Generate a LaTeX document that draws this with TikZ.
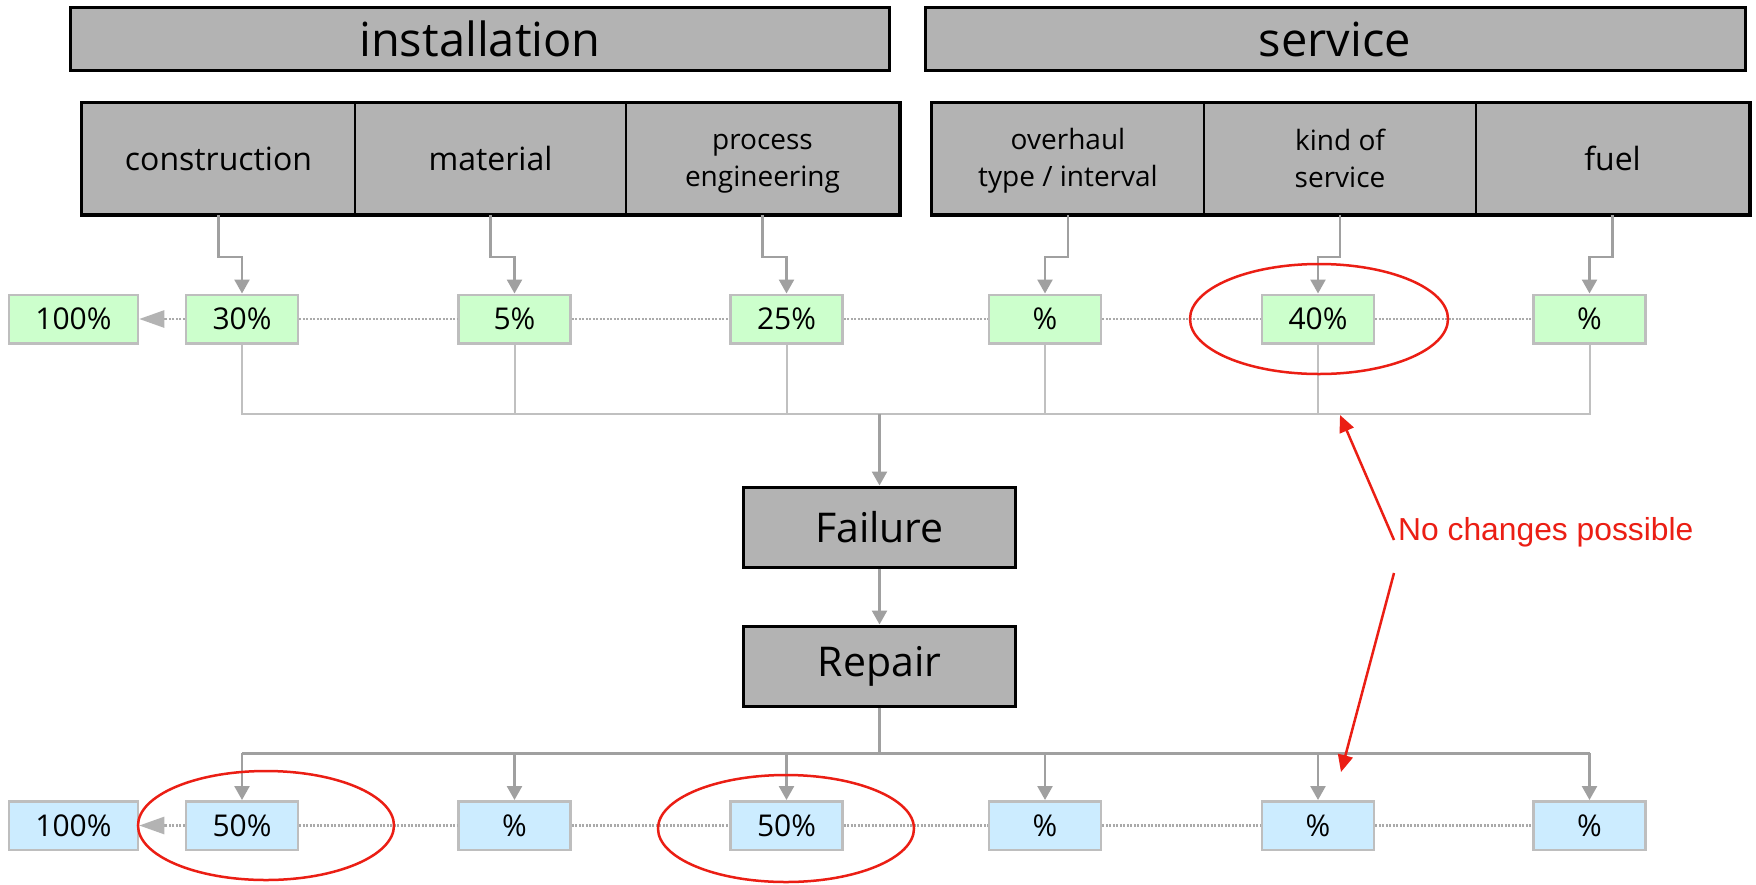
\documentclass[tikz,border=0pt]{standalone}
\usepackage{fontspec}
\setmainfont{Open Sans}
\newfontfamily\arialf{Liberation Sans}
\usetikzlibrary{arrows.meta}
\definecolor{boxgray}{RGB}{179,179,179}
\definecolor{lgreen}{RGB}{204,255,204}
\definecolor{lblue}{RGB}{204,236,255}
\definecolor{pborder}{RGB}{190,190,190}
\definecolor{arrgray}{RGB}{160,160,160}
\definecolor{busgray}{RGB}{192,192,192}
\definecolor{dotgray}{RGB}{170,170,170}
\definecolor{annred}{RGB}{235,30,20}
\begin{document}
\begin{tikzpicture}[x=1pt,y=-1pt,
  bigbox/.style={draw=black,line width=3pt,fill=boxgray,inner sep=0pt,minimum height=62.5pt,font=\fontsize{47}{56}\selectfont},
  cellbox/.style={draw=black,line width=2pt,fill=boxgray,inner sep=0pt,minimum width=272pt,minimum height=111pt,align=center},
  onel/.style={font=\fontsize{32}{37}\selectfont},
  twol/.style={font=\fontsize{28}{37}\selectfont},
  midbox/.style={draw=black,line width=3pt,fill=boxgray,inner sep=0pt,minimum width=272pt,minimum height=80pt,font=\fontsize{41}{48}\selectfont},
  pct/.style={draw=pborder,line width=2.5pt,inner sep=0pt,minimum width=112pt,minimum height=48.5pt,font=\fontsize{30}{36}\selectfont},
  gpct/.style={pct,fill=lgreen},
  bpct/.style={pct,fill=lblue},
  arr/.style={draw=arrgray,line width=2.5pt,-{Triangle[length=14pt,width=15pt]}},
  ubus/.style={draw=busgray,line width=2pt},
  lbus/.style={draw=arrgray,line width=3pt},
  dotl/.style={draw=dotgray,line width=2.5pt,dash pattern=on 2pt off 1.5pt},
  dotarr/.style={dotl,-{Triangle[length=25pt,width=17pt,color=boxgray]}},
  redl/.style={draw=annred,line width=2.5pt},
  redarr/.style={draw=annred,line width=2.5pt,-{Triangle[length=17pt,width=15pt]}}
]
\useasboundingbox[fill=white] (0,0) rectangle (1756,884);

% top headers
\node[bigbox,minimum width=819.5pt] (inst) at (480,39) {installation};
\node[bigbox,minimum width=820pt] (serv) at (1335,39) {service};

% header cells
\node[cellbox,minimum width=273pt,onel] (hc1) at (218.5,158.5) {construction};
\node[cellbox,minimum width=271pt,onel] (hc2) at (490.5,158.5) {material};
\node[cellbox,minimum width=273pt,label={[twol,align=center,yshift=-5pt]center:process\\engineering}] (hc3) at (762.5,158.5) {};
\node[cellbox,label={[twol,align=center,yshift=-2pt]center:overhaul\\type / interval}] (hc4) at (1068,158.5) {};
\node[cellbox,twol] (hc5) at (1340,158.5) {kind of\\service};
\node[cellbox,minimum width=273pt,onel] (hc6) at (1612.5,158.5) {fuel};
\draw[line width=3pt] (hc1.north west) rectangle (hc3.south east);
\draw[line width=3pt] (hc4.north west) rectangle (hc6.south east);

% green percentages
\node[gpct,minimum width=129pt] (g0) at (73.5,319) {100\%};
\node[gpct] (g1) at (242,319) {30\%};
\node[gpct] (g2) at (514.5,319) {5\%};
\node[gpct] (g3) at (786.5,319) {25\%};
\node[gpct] (g4) at (1045,319) {\%};
\node[gpct] (g5) at (1318,319) {40\%};
\node[gpct] (g6) at (1589.5,319) {\%};

% blue percentages
\node[bpct,minimum width=129pt] (b0) at (73.5,825.5) {100\%};
\node[bpct] (b1) at (242,825.5) {50\%};
\node[bpct] (b2) at (514.5,825.5) {\%};
\node[bpct] (b3) at (786.5,825.5) {50\%};
\node[bpct] (b4) at (1045,825.5) {\%};
\node[bpct] (b5) at (1318,825.5) {\%};
\node[bpct] (b6) at (1589.5,825.5) {\%};

% failure / repair
\node[midbox] (fail) at (879.5,527) {Failure};
\node[midbox] (rep) at (879.5,666) {Repair};

% header arrows
\foreach \h/\g in {hc1/g1,hc2/g2,hc3/g3,hc4/g4,hc5/g5,hc6/g6}{
  \draw[arr] (\h.south) -- ++(0,42) -| (\g.north);
}

% dotted lines
\draw[dotarr] (g1.west) -- (g0.east);
\draw[dotl] (g1.east) -- (g2.west) (g2.east) -- (g3.west) (g3.east) -- (g4.west) (g4.east) -- (g5.west) (g5.east) -- (g6.west);
\draw[dotarr] (b1.west) -- (b0.east);
\draw[dotl] (b1.east) -- (b2.west) (b2.east) -- (b3.west) (b3.east) -- (b4.west) (b4.east) -- (b5.west) (b5.east) -- (b6.west);

% upper bus
\coordinate (ub) at (879.5,414);
\draw[ubus] (g1.south) |- (g6.south |- ub) -- (g6.south);
\foreach \g in {g2,g3,g4,g5}{ \draw[ubus] (\g.south) -- (\g.south |- ub); }
\draw[arr] (ub) -- (fail.north);
\draw[arr] (fail.south) -- (rep.north);

% lower bus
\coordinate (lb) at (879.5,753);
\draw[lbus] (rep.south) -- (lb);
\draw[lbus] (b1.north |- lb) -- (b6.north |- lb);
\foreach \b in {b1,b2,b3,b4,b5,b6}{ \draw[arr] (\b.north |- lb) -- (\b.north); }

% red annotations
\draw[redl] (1319,319) ellipse [x radius=129pt, y radius=55pt];
\draw[redl] (266,825.5) ellipse [x radius=128pt, y radius=54.5pt];
\draw[redl] (786,828.5) ellipse [x radius=128pt, y radius=53.5pt];
\node[anchor=west,inner sep=0pt,text=annred,font=\arialf\fontsize{31.8}{36}\selectfont] (note) at (1398,532) {No changes possible};
\coordinate (n1) at (1394,540);
\coordinate (n2) at (1394,573);
\coordinate (t1) at (1340,415);
\coordinate (t2) at (1341,772);
\draw[redarr] (n1) -- (t1);
\draw[redarr] (n2) -- (t2);
\end{tikzpicture}
\end{document}
